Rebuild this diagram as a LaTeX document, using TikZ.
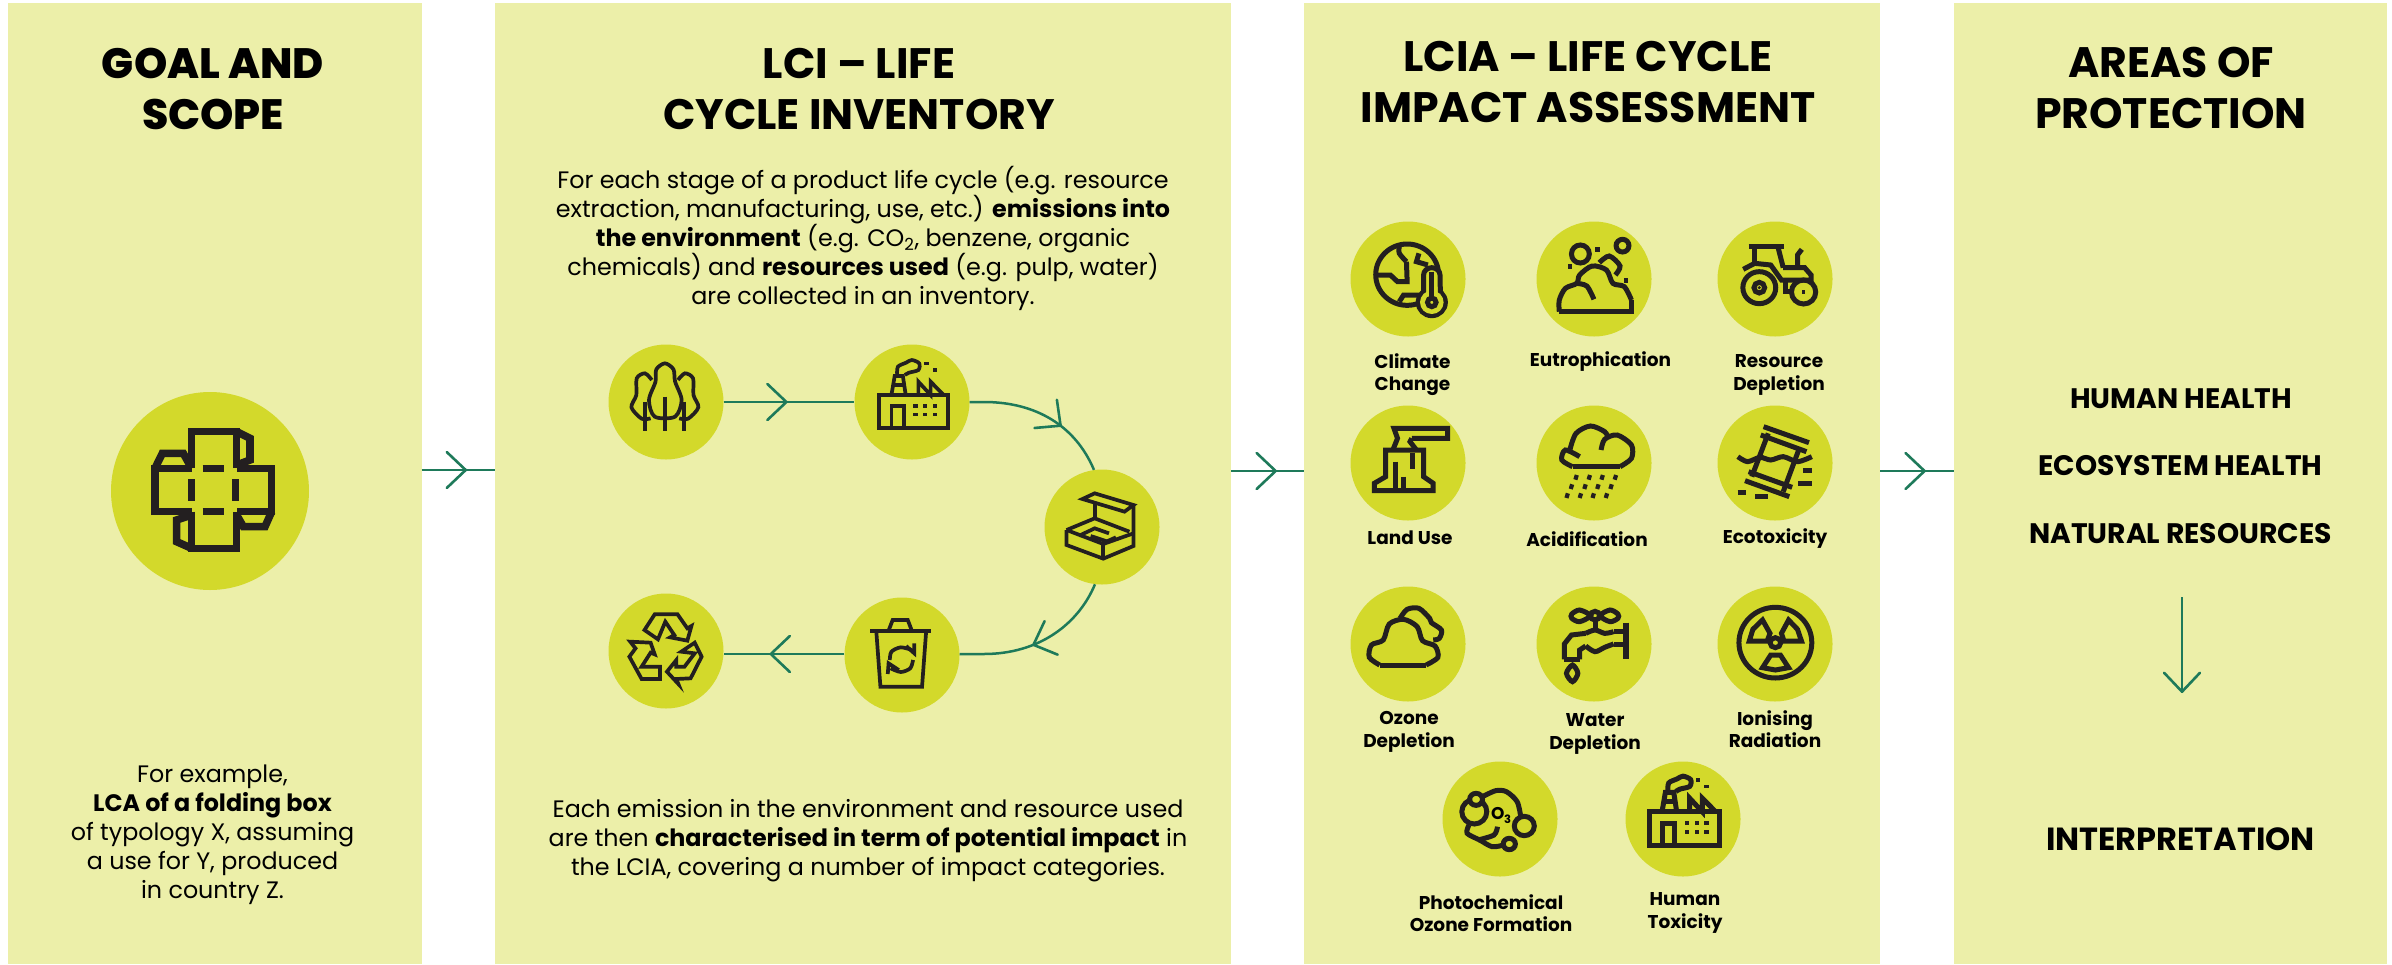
\documentclass[tikz,border=0pt]{standalone}
\usepackage{fontspec}
\setmainfont{Poppins}
\newfontfamily\xbold{Poppins ExtraBold}
\newfontfamily\hbold{Poppins Bold}
\usetikzlibrary{arrows.meta,decorations.markings}
\definecolor{panelc}{HTML}{ECEFA9}
\definecolor{discc}{HTML}{D3D92B}
\definecolor{linkc}{HTML}{1E7A5A}
\definecolor{inkc}{HTML}{231F20}
\tikzset{
  panel/.style={fill=panelc,draw=none,inner sep=0pt,minimum height=961pt,anchor=south,rectangle},
  disc/.style={circle,fill=discc,draw=none,inner sep=0pt,minimum size=#1},
  disc/.default=115pt,
  title/.style={font=\xbold\fontsize{42.4}{51}\selectfont,align=center,text=black,inner sep=0pt},
  htitle/.style={font=\hbold\fontsize{42.6}{51}\selectfont,align=center,text=black,inner sep=0pt},
  body/.style={font=\fontsize{23.8}{29}\selectfont,align=center,text=black,inner sep=0pt},
  lab/.style={font=\hbold\fontsize{18.5}{22.5}\selectfont,align=center,text=black,inner sep=0pt},
  aop/.style={font=\hbold\fontsize{28.2}{34}\selectfont,text=black,inner sep=0pt},
  link/.style={draw=linkc,line width=2.5pt},
  barbat/.style={postaction={decorate},decoration={markings,mark=at position #1 with {\arrow[line width=2.6pt,linkc]{Straight Barb[length=19pt,width=36pt,round]}}}},
  ico/.style={draw=inkc,line width=#1,line join=miter,fill=none},
  ico/.default=3pt,
  zmA/.style={shift={(560,320)},x=0.40816pt,y=-0.33333pt},
  zmC/.style={shift={(1310,200)},x=0.35714pt,y=-0.33333pt},
  zmD/.style={shift={(1310,570)},x=0.35714pt,y=-0.33333pt},
}
\newcommand\factoryicon[1]{%
  \begin{scope}[ico=#1]
  \draw (782,225) rectangle (950,325);
  \draw (812,325)--(812,258)--(842,258)--(842,325);
  \draw (812,225)--(820,168)--(840,168)--(847,225);
  \draw (816,195)--(844,195);
  \draw plot[smooth] coordinates {(826,165)(828,140)(848,128)(862,120)(880,130)(878,150)(855,158)(845,165)};
  \draw (878,225)--(878,185)--(908,225)--(908,185)--(940,225);
  \end{scope}
  \fill[inkc] (892,125) rectangle (903,136);
  \fill[inkc] (913,145) rectangle (924,156);
  \foreach \xx in {871,895,918} \foreach \yy in {258,284}
    \fill[inkc] (\xx-5,\yy-5) rectangle (\xx+5,\yy+5);
}
\begin{document}
\begin{tikzpicture}[x=1pt,y=-1pt]
\useasboundingbox (0,0) rectangle (2392,964);
% panels
\node[panel,minimum width=414pt] (p1) at (214.5,964) {};
\node[panel,minimum width=736pt] (p2) at (863,964) {};
\node[panel,minimum width=576pt] (p3) at (1592,964) {};
\node[panel,minimum width=433pt] (p4) at (2170.5,964) {};
\coordinate (lev1) at (0,470);
\coordinate (lev2) at (0,471);
% titles
\node[title] (t1) at (213,88.5) {GOAL AND\\SCOPE};
\node[htitle] (t2) at (859,89.5) {LCI – LIFE\\CYCLE INVENTORY};
\node[htitle] (t3) at (1588,82) {LCIA – LIFE CYCLE\\IMPACT ASSESSMENT};
\node[htitle] (t4) at (2171,87.5) {AREAS OF\\PROTECTION};
% panel 1
\node[disc=198pt] (d0) at (210,491) {};
\node[body] (b1) at (212.5,835) {For example,\\{\hbold LCA of a folding box}\\of typology X, assuming\\a use for Y, produced\\in country Z.};
% panel 2 text
\node[body] (b2) at (863,238.5) {For each stage of a product life cycle (e.g. resource\\extraction, manufacturing, use, etc.) {\hbold emissions into}\\{\hbold the environment} (e.g. CO\textsubscript{2}, benzene, organic\\chemicals) and {\hbold resources used} (e.g. pulp, water)\\are collected in an inventory.};
\node[body] (b3) at (868,841) {Each emission in the environment and resource used\\are then {\hbold characterised in term of potential impact} in\\the LCIA, covering a number of impact categories.};
% panel 2 discs
\node[disc] (trees) at (666,402) {};
\node[disc] (fact) at (912,402) {};
\node[disc] (boxd) at (1102,527) {};
\node[disc] (bin) at (902,655) {};
\node[disc] (recy) at (666,651) {};
% panel 3 discs
\node[disc] (clim) at (1408,279) {};
\node[disc] (eutr) at (1594,279) {};
\node[disc] (reso) at (1775,279) {};
\node[disc] (land) at (1408,463) {};
\node[disc] (acid) at (1594,463) {};
\node[disc] (ecot) at (1775,463) {};
\node[disc] (ozon) at (1408,644) {};
\node[disc] (watr) at (1594,644) {};
\node[disc] (ioni) at (1775,644) {};
\node[disc] (phot) at (1500,819) {};
\node[disc] (humn) at (1683,819) {};
% panel 3 labels
\node[lab] (l1) at (1412.5,374.5) {Climate\\Change};
\node[lab] (l2) at (1600.5,362) {Eutrophication};
\node[lab] (l3) at (1779,375) {Resource\\Depletion};
\node[lab] (l4) at (1410,538) {Land Use};
\node[lab] (l5) at (1587,539) {Acidification};
\node[lab] (l6) at (1775,539) {Ecotoxicity};
\node[lab] (l7) at (1409,732) {Ozone\\Depletion};
\node[lab] (l8) at (1595,734) {Water\\Depletion};
\node[lab] (l9) at (1775,729) {Ionising\\Radiation};
\node[lab] (l10) at (1491,913) {Photochemical\\Ozone Formation};
\node[lab] (l11) at (1685,913) {Human\\Toxicity};
% panel 4 text
\node[aop] (a1) at (2181,398.5) {HUMAN HEALTH};
\node[aop] (a2) at (2180.5,465.5) {ECOSYSTEM HEALTH};
\node[aop] (a3) at (2180.5,533.5) {NATURAL RESOURCES};
\node[aop,font=\hbold\fontsize{32}{38}\selectfont] (a4) at (2180.5,839) {INTERPRETATION};
% connectors between panels
\draw[link,barbat=0.62] (p1.east|-lev1) -- (p2.west|-lev1);
\draw[link,barbat=0.63] (p2.east|-lev2) -- (p3.west|-lev2);
\draw[link,barbat=0.62] (p3.east|-lev2) -- (p4.west|-lev2);
% connectors in panel 2
\draw[link,barbat=0.49] (trees) -- (fact);
\draw[link,barbat=0.64] (fact.east) -- (984,402) .. controls (1035,402) and (1075,425) .. (boxd.98);
\draw[link,barbat=0.55] (boxd.263) .. controls (1078,625) and (1038,654) .. (984,654) -- (bin.east|-0,654);
\draw[link,barbat=0.62] (bin.west|-0,654) -- (recy.east|-0,654);
\coordinate (dn1) at (2182,597);
\coordinate (dn2) at (2182,693);
\draw[link,barbat=1] (dn1) -- (dn2);
% icon: folding box
\begin{scope}[shift={(130,410)},x=0.33333pt,y=-0.33333pt]
  \begin{scope}[ico=7.6pt]
  \draw (185,175)--(185,65)--(320,65)--(320,175);
  \draw (185,305)--(185,415)--(320,415)--(320,305);
  \draw (185,175)--(75,175)--(75,305)--(185,305);
  \draw (320,175)--(425,175)--(425,305)--(320,305);
  \draw (320,65)--(360,85)--(360,150)--(320,165);
  \draw (185,415)--(140,395)--(140,330)--(185,315);
  \draw (75,175)--(97,130)--(160,130)--(185,175);
  \draw (425,305)--(405,350)--(340,350)--(320,315);
  \draw (218,175)--(282,175);
  \draw (218,305)--(282,305);
  \end{scope}
  \fill[discc] (172,190) rectangle (198,290);
  \fill[discc] (305,190) rectangle (333,290);
  \fill[inkc] (173,208) rectangle (196,272);
  \fill[inkc] (306,208) rectangle (328,272);
\end{scope}
% icons in panel 2
\begin{scope}[zmA]
  \begin{scope}[ico=3.7pt]
  % trees
  \draw plot[smooth cycle] coordinates {(257,130)(278,148)(282,185)(298,240)(282,290)(232,290)(218,240)(234,185)(236,148)};
  \draw (257,230)--(257,332) (209,245)--(209,332) (304,245)--(304,332);
  \draw plot[smooth] coordinates {(225,180)(208,160)(188,175)(187,225)(175,262)(200,296)(222,295)};
  \draw plot[smooth] coordinates {(289,180)(306,160)(326,175)(327,225)(339,262)(314,296)(292,295)};
  % box
  \draw (1241,630)--(1331,672)--(1405,640);
  \draw (1241,630)--(1241,675)--(1331,716)--(1405,678)--(1405,555);
  \draw (1331,672)--(1331,716);
  \draw (1241,630)--(1310,595)--(1395,635);
  \draw (1280,537)--(1310,520)--(1405,555)--(1383,575)--cycle;
  \draw (1310,545)--(1310,595);
  \draw (1272,647)--(1310,625)--(1345,640);
  \draw (1300,648)--(1340,664)--(1362,652);
  % bin
  \draw[line width=4.2pt] (760,933)--(910,933);
  \draw (805,932)--(815,900)--(852,900)--(862,932);
  \draw (775,935)--(785,1100)--(887,1100)--(897,935);
  \draw plot[smooth] coordinates {(808,1020)(812,995)(835,982)(862,990)};
  \draw plot[smooth] coordinates {(865,1020)(858,1045)(835,1056)(810,1045)};
  \draw (848,978)--(868,1000)--(868,970);
  \draw (803,1062)--(805,1030)--(830,1050);
  % recycle
  \draw (207,930)--(232,883)--(288,883)--(312,925)--(322,918)--(312,962)--(270,952)--(280,945)--(258,905)--(240,958)--cycle;
  \draw (172,965)--(222,968)--(232,1003)--(222,998)--(200,1040)--(245,1040)--(245,1077)--(200,1077)--(170,1010)--(185,985)--cycle;
  \draw (330,968)--(347,1010)--(320,1075)--(285,1077)--(290,1092)--(262,1055)--(285,1020)--(285,1040)--(305,1040)--(330,1000)--(297,995)--cycle;
  \end{scope}
\end{scope}
% factory 1
\begin{scope}[zmA]
  \factoryicon{3.7pt}
\end{scope}
% human toxicity factory
\begin{scope}[shift={(1683,819)},x=0.42pt,y=-0.34pt,shift={(-862,-246)}]
  \factoryicon{5pt}
\end{scope}
% icons in panel 3, upper rows
\begin{scope}[zmC]
  \begin{scope}[ico=5pt]
  % climate
  \draw (272,224) circle[x radius=88,y radius=92];
  \draw plot[smooth] coordinates {(250,140)(250,160)(270,185)};
  \draw (270,185)--(272,245)--(245,245)--(225,225)--(188,225);
  \draw (305,160)--(298,185)--(330,195);
  \draw (250,305)--(262,285)--(310,285);
  \draw[fill=discc] (341,307) circle[x radius=38,y radius=40];
  \draw[fill=discc] (318,280)--(318,225) arc[start angle=180,end angle=360,x radius=23,y radius=22]--(365,280);
  \fill[discc] (341,307) circle[x radius=33,y radius=35];
  \draw (341,215)--(341,295);
  \draw (341,307) circle[x radius=12,y radius=13];
  % eutrophication
  \draw (698,335)--(900,335)--(900,300);
  \draw plot[smooth] coordinates {(698,335)(698,300)(715,265)(747,250)(755,225)(790,198)(830,210)(848,250)(880,260)(900,300)};
  \draw plot[smooth] coordinates {(745,250)(775,258)(795,298)};
  \draw (757,162) circle[x radius=25,y radius=27];
  \draw (875,137) circle[x radius=18,y radius=19];
  \draw plot[smooth] coordinates {(810,188)(838,168)(868,198)(855,225)};
  % tractor
  \draw (1258,263) circle[x radius=46,y radius=48];
  \draw (1258,263) circle[x radius=15,y radius=16];
  \draw (1382,276) circle[x radius=34,y radius=36];
  \draw (1228,140)--(1327,140);
  \draw (1245,140)--(1245,192);
  \draw (1310,140)--(1325,203);
  \draw (1213,208)--(1245,190)--(1290,195)--(1320,240)--(1400,240);
  \draw (1325,203)--(1385,203)--(1403,225)--(1403,250);
  \draw (1365,203)--(1365,165)--(1377,148);
  \draw (1330,240)--(1330,275)--(1350,275);
  % land use
  \draw (285,715)--(385,715)--(385,685)--(235,685)--(245,715)--(232,750);
  \draw (285,715)--(280,725)--(298,750);
  \draw (212,750)--(318,750)--(318,830)--(345,850)--(345,872)--(180,872)--(180,850)--(212,830)--cycle;
  \draw (288,760)--(288,808);
  \draw (238,785)--(238,868);
  \draw (262,830)--(262,868);
  % acidification
  \draw (735,800)--(868,800);
  \draw plot[smooth] coordinates {(735,800)(705,780)(715,750)(755,770)};
  \draw plot[smooth] coordinates {(728,748)(745,700)(785,678)(825,695)(835,715)};
  \draw plot[smooth] coordinates {(815,750)(825,718)(860,705)(900,735)(900,775)(868,800)};
  \foreach \aa/\bb in {745/832,782/832,818/832,855/832,732/860,770/860,806/860,843/860,720/887,757/887,793/887,830/887}
    \draw[line width=4.2pt] (\aa-2,\bb+7)--(\aa+2,\bb-7);
  % ecotoxicity
  \draw (1270,680)--(1397,728);
  \draw (1262,705)--(1390,755);
  \draw (1228,815)--(1350,862);
  \draw (1218,842)--(1342,890);
  \draw (1283,700)--(1237,830);
  \draw (1370,745)--(1325,875);
  \draw plot[smooth] coordinates {(1198,770)(1225,785)(1260,772)(1290,780)(1325,770)(1365,785)(1405,770)};
  \draw (1380,812)--(1406,812);
  \draw[line width=5.4pt] (1367,850)--(1406,850);
  \draw (1197,877)--(1222,877);
  \draw (1247,890)--(1282,890);
  \end{scope}
\end{scope}
% icons in panel 3, lower rows
\begin{scope}[zmD]
  \begin{scope}[ico=5pt]
  % ozone depletion
  \draw (195,285)--(325,285);
  \draw plot[smooth] coordinates {(325,285)(358,262)(350,228)(315,212)(300,170)(262,148)(222,162)(205,210)(172,225)(166,262)(195,285)};
  \draw plot[smooth] coordinates {(252,145)(272,118)(305,115)(335,145)(340,158)(368,180)(362,205)(345,210)};
  % tap
  \draw plot[smooth cycle] coordinates {(785,137)(755,120)(733,132)(733,145)(755,155)};
  \draw plot[smooth cycle] coordinates {(812,137)(840,120)(862,132)(862,145)(840,155)};
  \draw (798,137) circle[x radius=13,y radius=13];
  \draw (798,152)--(798,182);
  \draw (712,268)--(712,222)--(732,195)--(772,190);
  \draw plot[smooth] coordinates {(772,190)(798,180)(825,190)(850,185)};
  \draw (850,185)--(885,185);
  \draw (885,222)--(850,222);
  \draw plot[smooth] coordinates {(850,222)(825,232)(798,245)(772,228)};
  \draw (772,228)--(755,240)--(755,268);
  \draw (712,268)--(755,268);
  \draw[line width=5.4pt] (885,158)--(885,268);
  \draw plot[smooth cycle] coordinates {(735,285)(750,310)(735,335)(718,310)};
  % radiation
  \draw (1303,218) circle[x radius=102,y radius=106];
  \draw (1303,218) circle[x radius=15,y radius=15];
  \draw (1230,213)--(1240,178)--(1267,150)--(1288,190)--(1280,213)--cycle;
  \draw (1376,213)--(1365,178)--(1340,150)--(1320,190)--(1327,213)--cycle;
  \draw (1267,293)--(1303,300)--(1340,293)--(1317,255)--(1290,255)--cycle;
  % photochemical
  \draw (460,725) circle[x radius=35,y radius=37];
  \draw[fill=discc] (465,688) circle[x radius=18,y radius=18];
  \draw (600,768) circle[x radius=28,y radius=29];
  \draw (558,822) circle[x radius=17,y radius=17];
  \draw plot[smooth] coordinates {(483,680)(520,662)(550,665)(580,695)(590,740)};
  \draw plot[smooth] coordinates {(445,765)(440,790)(475,810)(510,830)(542,825)};
  \draw plot[smooth] coordinates {(525,770)(515,795)(470,810)};
  \end{scope}
  \node[font=\hbold\fontsize{17}{17}\selectfont,inner sep=0pt] (o3a) at (526,729) {O};
  \node[font=\hbold\fontsize{11.5}{11.5}\selectfont,inner sep=0pt] (o3b) at (553,747) {3};
\end{scope}
\begin{scope}[zmC]
  \fill[inkc] (799,142) rectangle (811,155);
  \fill[inkc] (721,193) rectangle (733,206);
  \fill[inkc] (879,235) rectangle (891,248);
  \fill[inkc] (1377,271) rectangle (1387,281);
  \fill[inkc] (1258,263) circle[x radius=5,y radius=5];
\end{scope}
\end{tikzpicture}
\end{document}
